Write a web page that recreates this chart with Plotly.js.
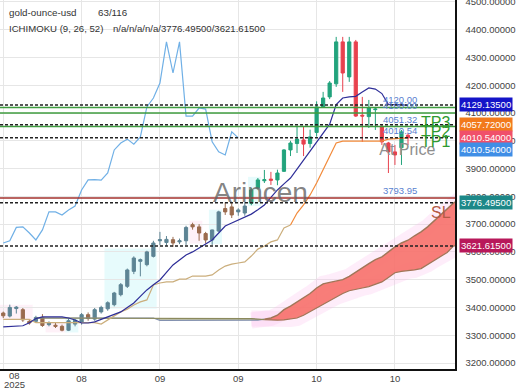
<!DOCTYPE html>
<html><head><meta charset="utf-8">
<script src="https://cdn.plot.ly/plotly-3.0.1.min.js"></script>
<style>html,body{margin:0;padding:0;background:#fff}#chart{width:520px;height:390px}</style>
</head><body><div id="chart"></div>
<script>
// ---- data ----
const open  = [3380,3369,3396,3392,3350,3350,3364,3338,3336,3332,3318,3340,3346,3374,3358,3384,3395,3410,3446,3476,3530,3566,3554,3584,3640,3634,3644,3636,3640,3698,3690,3666,3643,3675,3756,3762,3744,3740,3775,3830,3856,3862,3859,3890,3967,3990,4003,3990,4030,4122,4158,4205,4356,4230,4356,4092,4087,4112,4050,3992,3960,3975,4020];
const high  = [3385,3410,3405,3398,3356,3370,3376,3350,3344,3338,3360,3358,3380,3382,3398,3406,3422,3456,3488,3540,3584,3576,3604,3640,3672,3657,3654,3648,3694,3705,3700,3672,3680,3748,3778,3780,3757,3780,3830,3866,3895,3888,3896,3970,4000,4050,4050,4040,4142,4176,4215,4374,4374,4374,4363,4158,4147,4122,4057,3996,3985,4039,4028];
const low   = [3362,3364,3378,3348,3338,3346,3330,3332,3326,3314,3315,3332,3338,3352,3352,3378,3388,3404,3440,3470,3520,3512,3548,3580,3625,3622,3618,3628,3625,3680,3640,3630,3625,3672,3733,3722,3730,3730,3768,3825,3848,3841,3840,3888,3945,3956,3945,3975,4015,4118,4150,4194,4176,4212,4086,3996,4046,4039,3985,3884,3913,3913,3985];
const close = [3370,3400,3401,3355,3344,3364,3335,3344,3332,3318,3352,3354,3374,3360,3392,3400,3417,3452,3482,3535,3578,3572,3600,3632,3644,3645,3632,3640,3688,3690,3668,3643,3679,3744,3744,3733,3751,3765,3823,3859,3860,3858,3884,3967,3992,4006,3988,4014,4122,4154,4208,4356,4244,4356,4089,4089,4118,4114,3996,3960,3949,4032,4010.54];
const tenkan = [3330,3331,3333,3334,3345,3360,3366,3366,3366,3366,3362,3355,3344,3344,3348,3356,3366,3375,3384,3400,3416,3440,3463,3482,3499,3526,3553,3571,3589,3600,3614,3628,3643,3668,3693,3704,3715,3725,3736,3752,3769,3796,3823,3845,3866,3898,3931,3963,3996,4030,4060,4130,4154,4158,4160,4176,4190,4186,4170,4130,4130,4130,4127];
const kijun = [3357,3357,3357,3357,3357,3345,3345,3345,3345,3345,3345,3345,3345,3345,3345,3340,3355,3369,3384,3394,3409,3420,3427,3481,3488,3492,3492,3502,3502,3513,3513,3513,3517,3535,3549,3556,3560,3564,3585,3610,3621,3636,3643,3686,3697,3740,3769,3805,3848,3895,3942,3992,3999,3999,3999,3999,3999,3999,3999,4006,4008,4010,4010.54];
const spanA = [null,null,null,null,null,3362,3362,3362,3362,3362,3362,3362,3362,3362,3362,3362,3362,3362,3362,3362,3362,3362,3362,3362,3353,3353,3353,3353,3353,3353,3353,3353,3353,3353,3353,3353,3353,3353,3353,3354,3358,3362,3372,3392,3405,3420,3435,3450,3470,3485,3490,3495,3500,3512,3528,3542,3558,3572,3582,3600,3618,3632,3642,3658,3672,3690,3712,3735,3756,3776.495,3790];
const spanB = [null,null,null,null,null,3362,3362,3362,3362,3362,3362,3362,3362,3362,3362,3362,3362,3362,3362,3362,3362,3362,3362,3362,3360,3360,3360,3360,3360,3360,3360,3360,3360,3360,3360,3360,3360,3360,3360,3358,3356,3354,3354,3355,3358,3362,3372,3385,3400,3412,3425,3438,3450,3460,3466,3470,3475,3484,3492,3508,3525,3530,3532,3535,3540,3555,3570,3585,3598,3621.615,3621.615];
const dashedLevels = [4129.135, 4057.72, 4010.54, 3776.495, 3621.615];
const tpLevels = [4120.00, 4100.00, 4051.32];
const tpNames = ["TP3", "TP2", "TP1"];
const entryLevel = 4010.54;
const slLevel = 3793.95;
const xTickVals = [0, 12, 24, 36, 48, 60];
const xTickText = ["", "08", "09", "09", "10", "10"];
const firstTickLabel = ["08", "2025"];
const firstTickPos = 1.65;
const cyanZones = [[15.5,23.5,3395,3612],[9.5,11.5,3310,3362],[31.5,33.5,3628,3752],[37.5,39.5,3765,3870]];
const pinkZones = [[-0.5,4.5,3355,3410],[28.5,30.5,3630,3712],[6.5,9.5,3310,3345]];

// ---- build ----
const FONT = "Liberation Sans, Arial, sans-serif";
const idx = close.map((_, i) => i);
const sIdx = spanA.map((_, i) => i);
const split = 38;
const traces = [];

// pink glow around cloud
const g0 = 38;
traces.push({type:'scatter',mode:'lines',x:sIdx.slice(g0),y:spanA.slice(g0),line:{color:'rgba(252,185,236,0.25)',width:16},hoverinfo:'skip'});
traces.push({type:'scatter',mode:'lines',x:sIdx.slice(g0),y:spanB.slice(g0),line:{color:'rgba(252,185,236,0.25)',width:16},hoverinfo:'skip'});

// cloud segment 1 (thin, olive)
const c1 = 5, c2 = 40;
traces.push({type:'scatter',mode:'lines',x:sIdx.slice(c1,c2+1),y:spanA.slice(c1,c2+1),line:{color:'#8391b0',width:1.2},hoverinfo:'skip'});
traces.push({type:'scatter',mode:'lines',x:sIdx.slice(c1,c2+1),y:spanB.slice(c1,c2+1),line:{color:'#8c8a5c',width:1.2},fill:'tonexty',fillcolor:'rgba(130,135,95,0.55)',hoverinfo:'skip'});
// cloud segment 2 (red)
traces.push({type:'scatter',mode:'lines',x:sIdx.slice(c2),y:spanB.slice(c2),line:{color:'#a07658',width:1.2},hoverinfo:'skip'});
traces.push({type:'scatter',mode:'lines',x:sIdx.slice(c2),y:spanA.slice(c2),line:{color:'#a07658',width:1.4},fill:'tonexty',fillcolor:'rgba(247,112,106,0.9)',hoverinfo:'skip'});

// "At Price" text sits under the candles
traces.push({type:'scatter',mode:'text',x:[57.6],y:[3963],text:['At Price'],textposition:'middle right',textfont:{family:FONT,size:16,color:'#8e8e8e'},hoverinfo:'skip'});

// chikou
traces.push({type:'scatter',mode:'lines',x:idx.slice(26).map(i=>i-26),y:close.slice(26),line:{color:'#70b0e6',width:1.2},hoverinfo:'skip'});
// kijun
traces.push({type:'scatter',mode:'lines',x:idx.slice(0,45),y:kijun.slice(0,45),line:{color:'#cbae7c',width:1.2},hoverinfo:'skip'});
traces.push({type:'scatter',mode:'lines',x:idx.slice(44),y:kijun.slice(44),line:{color:'#f28a3a',width:1.2},hoverinfo:'skip'});
// tenkan
traces.push({type:'scatter',mode:'lines',x:idx,y:tenkan,line:{color:'#2e2e98',width:1.2},hoverinfo:'skip'});

// candles
function candle(a,b,up,down){
  return {type:'candlestick',x:idx.slice(a,b),open:open.slice(a,b),high:high.slice(a,b),low:low.slice(a,b),close:close.slice(a,b),
    increasing:{line:{color:up,width:1},fillcolor:up},decreasing:{line:{color:down,width:1},fillcolor:down},whiskerwidth:0,hoverinfo:'skip'};
}
traces.push(candle(0,split,'#5d8494','#9a6b4e'));
traces.push(candle(split,close.length,'#22a37c','#e8414e'));

const shapes = [];
cyanZones.forEach(z=>shapes.push({type:'rect',layer:'below',xref:'x',yref:'y',x0:z[0],x1:z[1],y0:z[2],y1:z[3],fillcolor:'rgba(215,248,250,0.6)',line:{width:0}}));
pinkZones.forEach(z=>shapes.push({type:'rect',layer:'below',xref:'x',yref:'y',x0:z[0],x1:z[1],y0:z[2],y1:z[3],fillcolor:'rgba(253,232,244,0.6)',line:{width:0}}));
tpLevels.forEach(v=>shapes.push({type:'line',xref:'paper',x0:0,x1:1,yref:'y',y0:v,y1:v,line:{color:'#3f9c3f',width:1.5}}));
shapes.push({type:'line',xref:'paper',x0:0,x1:1,yref:'y',y0:slLevel,y1:slLevel,line:{color:'#a3302c',width:1.5}});
dashedLevels.forEach(v=>shapes.push({type:'line',xref:'paper',x0:0,x1:1,yref:'y',y0:v,y1:v,line:{color:'#222',width:1.5,dash:'3px,2px'}}));

const annotations = [];
const PW = 455, PH = 369;
function txt(text,px,py,size,color,anchor){
  annotations.push({text:text,xref:'paper',yref:'paper',x:px/PW,y:1-py/PH,xanchor:anchor||'left',yanchor:'middle',showarrow:false,font:{family:FONT,size:size,color:color}});
}
txt('gold-ounce-usd',7,13,9.8,'#333');
txt('63/116',96,13,9.8,'#333');
txt('ICHIMOKU (9, 26, 52)',7,29,9.6,'#333');
txt('n/a/n/a/n/a/'+dashedLevels[3].toFixed(5)+'/'+dashedLevels[4].toFixed(5),111,29,9.6,'#333');
txt('Arincen',260,192,28,'rgba(100,100,100,0.8)','center');
txt('SL',429,212,16,'#b45a46');
const tpPy = [122,131,141];
tpNames.forEach((n,k)=>txt(n,419,tpPy[k],16,'#2f9a2f'));

// small blue level labels
[tpLevels[0],tpLevels[1],tpLevels[2],entryLevel,slLevel].forEach(v=>{
  annotations.push({text:v.toFixed(2),xref:'paper',yref:'y',x:381/PW,y:v,xanchor:'left',yanchor:'bottom',showarrow:false,font:{family:FONT,size:9.5,color:'#5a7fcf'}});
});

// right axis value boxes
const boxes = [[dashedLevels[0],'#1414c8','#fff',0],[dashedLevels[1],'#f27a1c','#fff',0],[dashedLevels[2],'#f0506a','#fff',0],[entryLevel,'#3f8ee6','#fff',-12],[dashedLevels[3],'#1c8888','#fff',0],[dashedLevels[4],'#b8185a','#fff',0]];
boxes.forEach(b=>annotations.push({text:b[0].toFixed(5),xref:'paper',yref:'y',x:1,y:b[0],xanchor:'left',yanchor:'middle',xshift:4,yshift:b[3],showarrow:false,bgcolor:b[1],borderpad:1,font:{family:FONT,size:9.5,color:b[2]}}));
// first x tick label (two lines, tight spacing)
annotations.push({text:firstTickLabel[0],xref:'x',yref:'paper',x:firstTickPos,y:0,yanchor:'middle',yshift:-6,showarrow:false,font:{family:FONT,size:9.5,color:'#444'}});
annotations.push({text:firstTickLabel[1],xref:'x',yref:'paper',x:firstTickPos,y:0,yanchor:'middle',yshift:-15,showarrow:false,font:{family:FONT,size:9.5,color:'#444'}});

const layout = {
  width:520,height:390,margin:{l:0,r:65,t:0,b:21},
  paper_bgcolor:'#fff',plot_bgcolor:'#fff',showlegend:false,
  font:{family:FONT,size:9.5,color:'#444'},
  xaxis:{range:[-0.5,69.2],tickvals:xTickVals,ticktext:xTickText,showgrid:true,gridcolor:'#e6e6e6',zeroline:false,showline:true,linecolor:'#111',linewidth:1.5,ticks:'',rangeslider:{visible:false},ticklabelstandoff:0,tickfont:{size:9.5,color:'#444'}},
  yaxis:{side:'right',range:[3178.4,4506.8],dtick:100,tick0:3200,tickformat:'.5f',showgrid:true,gridcolor:'#e6e6e6',zeroline:false,showline:true,linecolor:'#111',linewidth:1.5,ticks:'',ticklabelstandoff:7,ticklabeloverflow:'allow',tickfont:{size:9.5,color:'#444'}},
  shapes:shapes,annotations:annotations
};
Plotly.newPlot('chart',traces,layout,{staticPlot:true,displayModeBar:false});
</script></body></html>
